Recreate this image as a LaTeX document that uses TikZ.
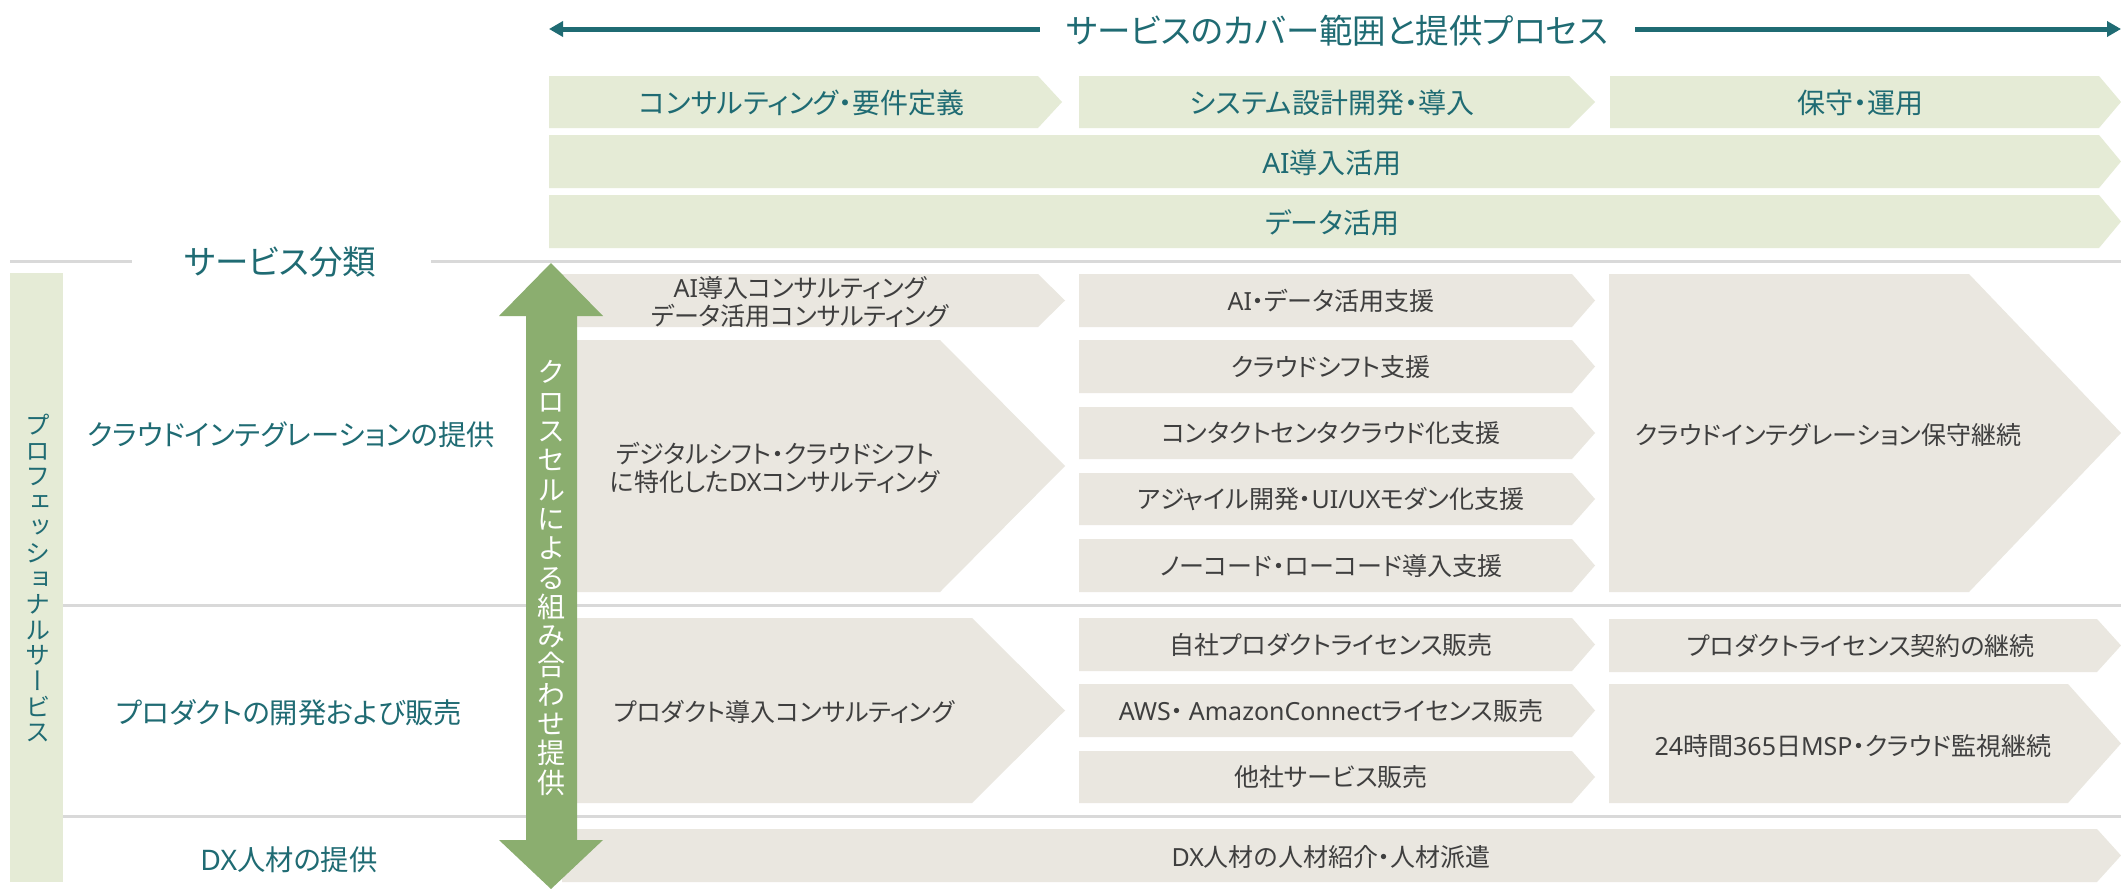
\documentclass[tikz,border=0pt]{standalone}
\usepackage{fontspec}
\setmainfont{Noto Sans CJK JP}[RawFeature={+palt}]
\newfontfamily\jpv{Noto Sans CJK JP}[RawFeature={+vert}]
\newfontfamily\latf{Noto Sans}
\newcommand{\lt}[1]{{\latf #1}}
\usetikzlibrary{arrows.meta}
\definecolor{tealc}{HTML}{1F6B73}
\definecolor{lgreen}{HTML}{E5EBD6}
\definecolor{lgray}{HTML}{EAE7E0}
\definecolor{linegray}{HTML}{D9D9D9}
\definecolor{agreen}{HTML}{8BAE6F}
\definecolor{dgray}{HTML}{3F3F3F}
\newcommand{\chev}[6]{\fill[#1] (#2,#3) -- (#4,#3) -- (#5,{(#3+#6)/2}) -- (#4,#6) -- (#2,#6) -- cycle;}
\begin{document}
\begin{tikzpicture}[x=1pt,y=-1pt,
  hdr/.style={text=tealc, font=\fontsize{28}{32}\selectfont, inner sep=0pt},
  cell/.style={text=dgray, font=\fontsize{25}{28}\selectfont, inner sep=0pt, align=center},
  cat/.style={text=tealc, font=\fontsize{28.3}{32}\selectfont, inner sep=0pt},
  big/.style={text=tealc, font=\fontsize{33.5}{38}\selectfont, inner sep=0pt},
  sepline/.style={draw=linegray, line width=3pt},
  toparrow/.style={draw=tealc, line width=5pt},
]
\useasboundingbox (0,0) rectangle (2121,889);
\fill[white] (0,0) rectangle (2121,889);

% ---- top arrow
\coordinate (la) at (549,29);
\coordinate (lb) at (1040,29);
\coordinate (ra) at (1635,29);
\coordinate (rb) at (2121,29);
\draw[toparrow, {Triangle[length=14pt,width=15pt]}-] (la) -- (lb);
\draw[toparrow, -{Triangle[length=14pt,width=15pt]}] (ra) -- (rb);
\node[big] (title) at (1337,31) {サービスのカバー範囲と提供プロセス};

% ---- process header rows
\chev{lgreen}{549}{76}{1038}{1062}{128}
\chev{lgreen}{1079}{76}{1569}{1595}{128}
\chev{lgreen}{1610}{76}{2099}{2121}{128}
\chev{lgreen}{549}{135}{2099}{2121}{188}
\chev{lgreen}{549}{195}{2099}{2121}{248}
\node[hdr] (h1) at (802,103) {コンサルティング・要件定義};
\node[hdr] (h2) at (1332,103) {システム設計開発・導入};
\node[hdr] (h3) at (1860,103) {保守・運用};
\node[hdr] (h4) at (1332,163) {\lt{AI}導入活用};
\node[hdr] (h5) at (1332,223) {データ活用};

% ---- separator lines
\coordinate (s1a) at (10,261); \coordinate (s1b) at (132,261);
\coordinate (s2a) at (431,261); \coordinate (s2b) at (2121,261);
\coordinate (s3a) at (63,605); \coordinate (s3b) at (2121,605);
\coordinate (s4a) at (63,816); \coordinate (s4b) at (2121,816);
\draw[sepline] (s1a) -- (s1b);
\draw[sepline] (s2a) -- (s2b);
\draw[sepline] (s3a) -- (s3b);
\draw[sepline] (s4a) -- (s4b);
\node[big] (cls) at (280,262) {サービス分類};

% ---- left vertical bar
\fill[lgreen] (10,273) rectangle (63,882);
\node[inner sep=0pt, align=center, text=tealc, font=\jpv\fontsize{25}{25.6}\selectfont] (prof) at (38,578)
  {プ\\ロ\\フ\\ェ\\ッ\\シ\\ョ\\ナ\\ル\\サ\\ー\\ビ\\ス};

% ---- category labels
\node[cat] (c1) at (291,435) {クラウドインテグレーションの提供};
\node[cat] (c2) at (289,713) {プロダクトの開発および販売};
\node[cat] (c3) at (289,860) {\lt{DX}人材の提供};

% ---- gray boxes column 1
\chev{lgray}{562}{274}{1038}{1065}{327}
\chev{lgray}{562}{340}{940}{1065}{592}
\chev{lgray}{562}{618}{972}{1065}{803}
\chev{lgray}{562}{829}{2097}{2121}{882}
% column 2
\chev{lgray}{1079}{274}{1572}{1595}{327}
\chev{lgray}{1079}{340}{1572}{1595}{393}
\chev{lgray}{1079}{407}{1572}{1595}{459}
\chev{lgray}{1079}{473}{1572}{1595}{525}
\chev{lgray}{1079}{539}{1572}{1595}{592}
\chev{lgray}{1079}{618}{1572}{1595}{671}
\chev{lgray}{1079}{684}{1572}{1595}{737}
\chev{lgray}{1079}{751}{1572}{1595}{803}
% column 3
\chev{lgray}{1609}{274}{1969}{2121}{592}
\chev{lgray}{1609}{619}{2097}{2121}{672}
\chev{lgray}{1609}{684}{2068}{2121}{803}

\node[cell] (g1) at (800,302) {\lt{AI}導入コンサルティング\\データ活用コンサルティング};
\node[cell] (g2) at (775,468) {デジタルシフト・クラウドシフト\\に特化した\lt{DX}コンサルティング};
\node[cell] (g3) at (784,712) {プロダクト導入コンサルティング};
\node[cell] (g4) at (1331,857) {\lt{DX}人材の人材紹介・人材派遣};
\node[cell] (k1) at (1331,301) {\lt{AI}・データ活用支援};
\node[cell] (k2) at (1331,367) {クラウドシフト支援};
\node[cell] (k3) at (1331,433) {コンタクトセンタクラウド化支援};
\node[cell] (k4) at (1331,499) {アジャイル開発・\lt{UI/UX}モダン化支援};
\node[cell] (k5) at (1331,566) {ノーコード・ローコード導入支援};
\node[cell] (k6) at (1331,645) {自社プロダクトライセンス販売};
\node[cell] (k7) at (1331,711) {\lt{AWS}・ \lt{AmazonConnect}ライセンス販売};
\node[cell] (k8) at (1331,777) {他社サービス販売};
\node[cell] (m1) at (1828,435) {クラウドインテグレーション保守継続};
\node[cell] (m2) at (1861,646) {プロダクトライセンス契約の継続};
\node[cell] (m3) at (1853,746) {\lt{24}時間\lt{365}日\lt{MSP}・クラウド監視継続};

% ---- cross-sell double arrow
\fill[agreen] (551,263) -- (603,316) -- (577,316) -- (577,840) -- (603,840) -- (551,889)
  -- (499,840) -- (526,840) -- (526,316) -- (499,316) -- cycle;
\node[inner sep=0pt, align=center, text=white, font=\jpv\fontsize{28}{29.3}\selectfont] (xs) at (551,578)
  {ク\\ロ\\ス\\セ\\ル\\に\\よ\\る\\組\\み\\合\\わ\\せ\\提\\供};
\end{tikzpicture}
\end{document}
